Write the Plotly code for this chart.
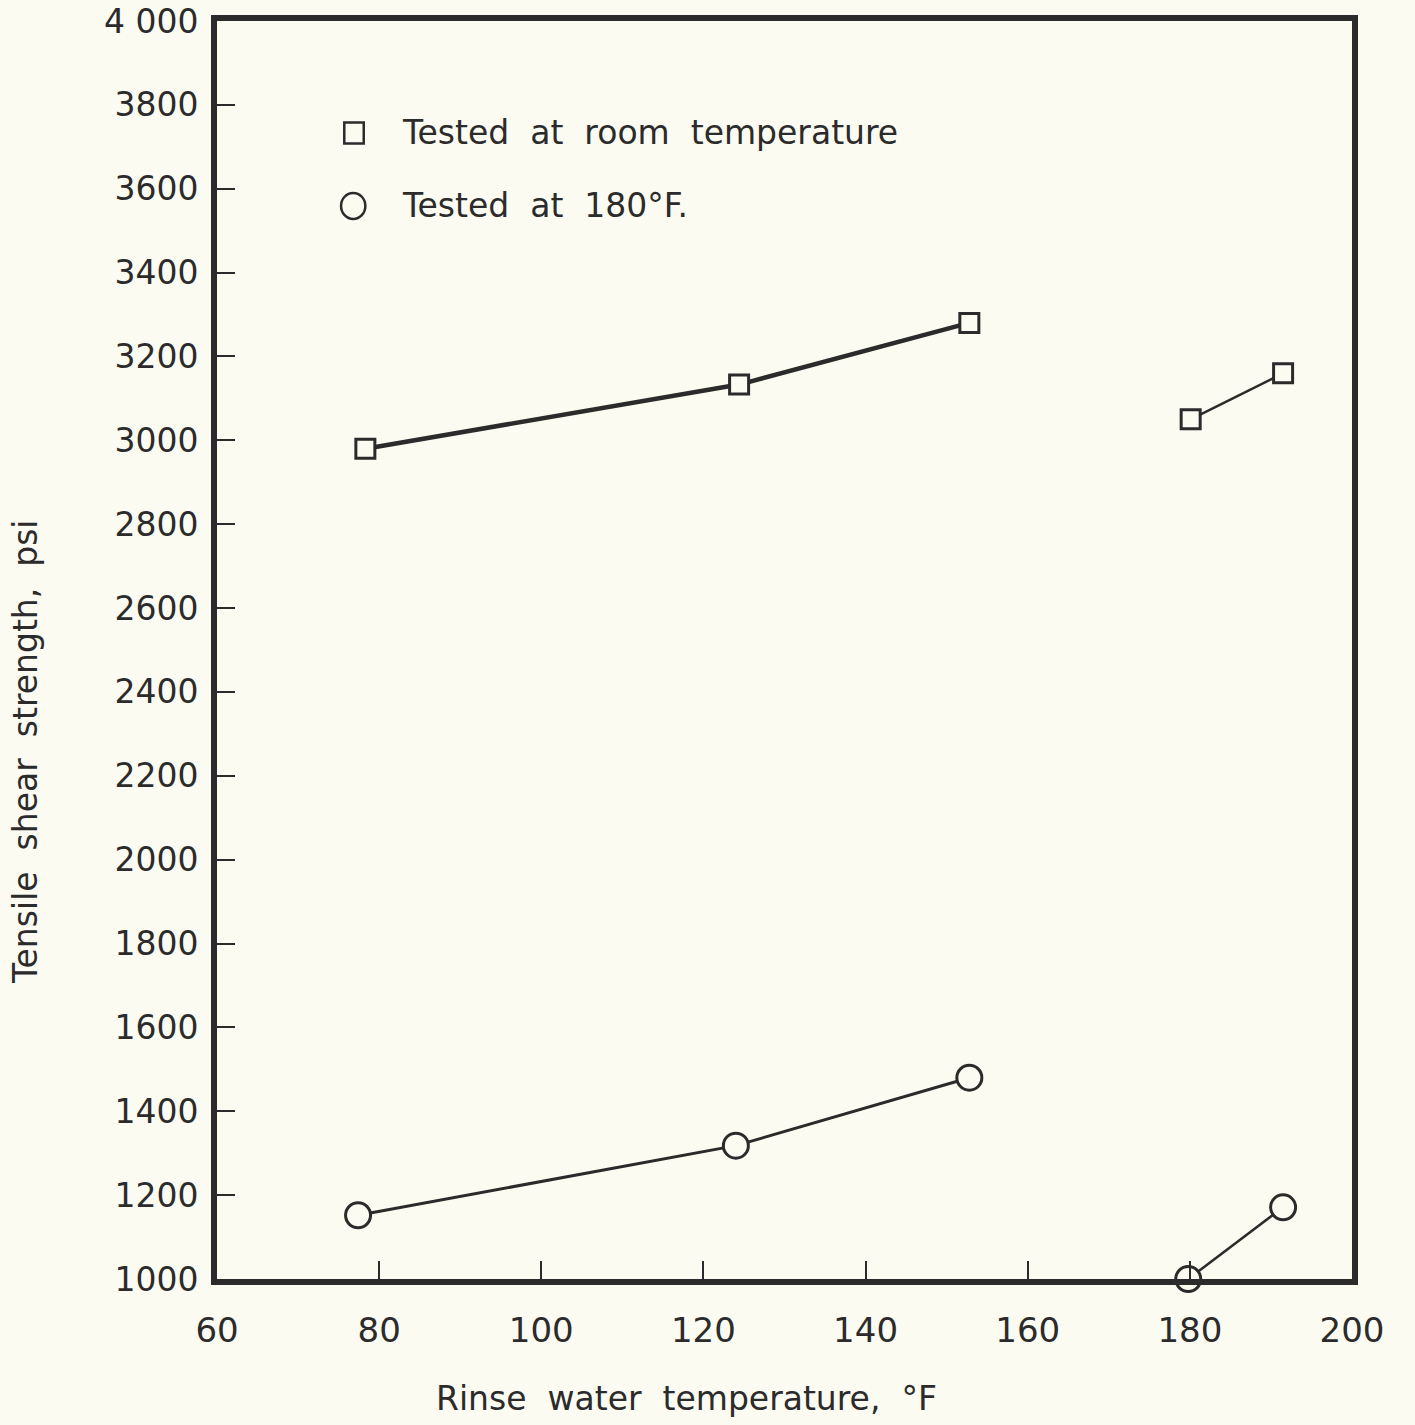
import plotly.graph_objects as go

# Data
room_temp_x_a = [78.3, 124.4, 152.8]
room_temp_y_a = [2980, 3133, 3280]
room_temp_x_b = [180.1, 191.5]
room_temp_y_b = [3050, 3160]

hot_x_a = [77.4, 124.0, 152.8]
hot_y_a = [1152, 1318, 1480]
hot_x_b = [179.8, 191.5]
hot_y_b = [1000, 1171]

x_ticks = [60, 80, 100, 120, 140, 160, 180, 200]
y_ticks = list(range(1000, 4001, 200))
y_ticktext = ["1000", "1200", "1400", "1600", "1800", "2000", "2200", "2400", "2600",
              "2800", "3000", "3200", "3400", "3600", "3800", "4 000"]

BG = "#fbfbf2"
INK = "#2b2b2b"
FONT = "DejaVu Sans"

L, R, T, B = 217, 1352, 21, 1279

fig = go.Figure()

def seg(x, y, symbol, size, lw):
    fig.add_trace(go.Scatter(
        x=x, y=y, mode="lines+markers", showlegend=False, cliponaxis=False,
        line=dict(color=INK, width=lw),
        marker=dict(symbol=symbol, size=size, color=BG, line=dict(color=INK, width=3)),
    ))

seg(room_temp_x_a, room_temp_y_a, "square", 19, 4.5)
seg(room_temp_x_b, room_temp_y_b, "square", 19, 2.5)
seg(hot_x_a, hot_y_a, "circle", 25, 3)
seg(hot_x_b, hot_y_b, "circle", 25, 2.5)

fig.update_layout(
    width=1415, height=1425,
    paper_bgcolor=BG, plot_bgcolor=BG,
    margin=dict(l=L, r=1415 - R, t=T, b=1425 - B),
    font=dict(family=FONT, color=INK, size=30),
    xaxis=dict(range=[60, 200], tickvals=x_ticks, ticks="inside", ticklen=18, tickwidth=2,
               tickcolor=INK, showline=True, linewidth=6, linecolor=INK, mirror=True,
               showgrid=False, zeroline=False, tickfont=dict(size=34), ticklabelstandoff=16,
               automargin=False, ticklabeloverflow="allow"),
    yaxis=dict(range=[1000, 4000], tickvals=y_ticks, ticktext=y_ticktext, ticks="inside",
               ticklen=18, tickwidth=2, tickcolor=INK, showline=True, linewidth=6,
               linecolor=INK, mirror=True, showgrid=False, zeroline=False,
               tickfont=dict(size=33), ticklabelstandoff=6, automargin=False,
               ticklabeloverflow="allow"),
)

W = R - L
H = B - T

# Axis titles
fig.add_annotation(text="Rinse  water  temperature,  °F", xref="paper", yref="paper",
                   x=(686 - L) / W, y=-(1398 - B) / H,
                   showarrow=False, font=dict(size=33), xanchor="center", yanchor="middle")
fig.add_annotation(text="Tensile  shear  strength,  psi", xref="paper", yref="paper",
                   x=-(L - 25) / W, y=(B - 752) / H, textangle=-90,
                   showarrow=False, font=dict(size=33), xanchor="center", yanchor="middle")

# Legend
fig.add_shape(type="rect", xref="x", yref="y", x0=75.7, x1=78.1, y0=3708, y1=3758,
              line=dict(color=INK, width=2.5), fillcolor=BG)
fig.add_shape(type="circle", xref="x", yref="y", x0=75.3, x1=78.3, y0=3528, y1=3590,
              line=dict(color=INK, width=2.5), fillcolor=BG)
fig.add_annotation(text="Tested  at  room  temperature", xref="x", yref="y", x=82.6, y=3734,
                   showarrow=False, xanchor="left", yanchor="middle", font=dict(size=33))
fig.add_annotation(text="Tested  at  180°F.", xref="x", yref="y", x=82.6, y=3560,
                   showarrow=False, xanchor="left", yanchor="middle", font=dict(size=33))

fig.write_html("out.html")
